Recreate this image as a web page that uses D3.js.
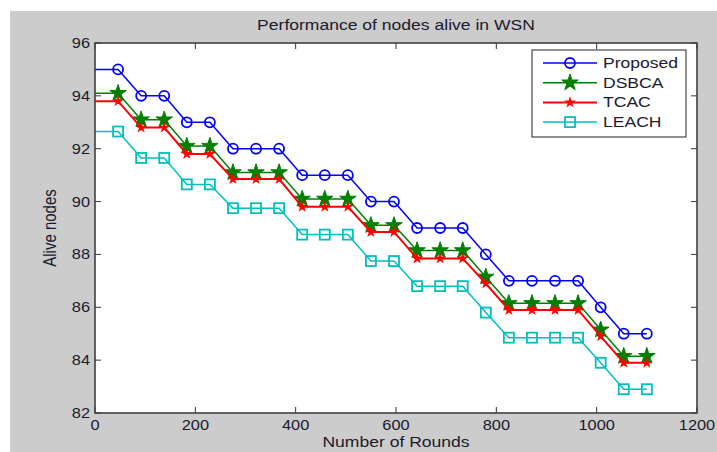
<!DOCTYPE html>
<html><head><meta charset="utf-8">
<script src="https://cdn.jsdelivr.net/npm/d3@7"></script>
<style>body{margin:0;background:#fff}svg{display:block}text{font-family:"Liberation Sans",Arial,sans-serif;fill:#1a1a2e}</style>
</head><body><svg id="c" width="717" height="452"></svg>
<script>
const rounds = [0,46,92,138,183,229,275,321,367,413,458,504,550,596,642,688,733,779,825,871,917,963,1008,1054,1100];
const proposed = [95,95,94,94,93,93,92,92,92,91,91,91,90,90,89,89,89,88,87,87,87,87,86,85,85];
const dsbca = [94.1,94.1,93.1,93.1,92.1,92.1,91.1,91.1,91.1,90.1,90.1,90.1,89.1,89.1,88.15,88.15,88.15,87.15,86.15,86.15,86.15,86.15,85.15,84.15,84.15];
const tcac = [93.8,93.8,92.8,92.8,91.8,91.8,90.85,90.85,90.85,89.8,89.8,89.8,88.85,88.85,87.85,87.85,87.85,86.9,85.9,85.9,85.9,85.9,84.9,83.9,83.9];
const leach = [92.65,92.65,91.65,91.65,90.65,90.65,89.75,89.75,89.75,88.75,88.75,88.75,87.75,87.75,86.8,86.8,86.8,85.8,84.85,84.85,84.85,84.85,83.9,82.9,82.9];
const seriesNames = ["Proposed","DSBCA","TCAC","LEACH"];
const xTicks = [0,200,400,600,800,1000,1200];
const yTicks = [82,84,86,88,90,92,94,96];

const SX = 1.17;
const svg = d3.select("#c");
function txt(g,xx,yy,s,size,anchor){
  return g.append("text").attr("transform",`translate(${xx},${yy}) scale(${SX},1)`).attr("text-anchor",anchor||"start").attr("font-size",size).text(s);
}
svg.append("rect").attr("x",10).attr("y",11).attr("width",707).attr("height",441).attr("fill","#cccccc");
const L=95,R=697,T=43,B=413;
const x = d3.scaleLinear().domain([0,1200]).range([L,R]);
const y = d3.scaleLinear().domain([82,96]).range([B,T]);
svg.append("rect").attr("x",L).attr("y",T).attr("width",R-L).attr("height",B-T).attr("fill","#fff");
svg.append("defs").append("clipPath").attr("id","clip").append("rect").attr("x",L).attr("y",T).attr("width",R-L).attr("height",B-T);

const styles = [
 {data:proposed,color:"#0000ff",w:1.5,marker:"circle"},
 {data:dsbca,color:"#008000",w:1.5,marker:"star"},
 {data:tcac,color:"#ff0000",w:2,marker:"smallstar"},
 {data:leach,color:"#00bfbf",w:1.5,marker:"square"}
];
function drawMarker(g,type,color,cx,cy){
  if(type==="circle") g.append("circle").attr("cx",cx).attr("cy",cy).attr("r",5).attr("fill","none").attr("stroke",color).attr("stroke-width",1.8);
  else if(type==="square") g.append("rect").attr("x",cx-5).attr("y",cy-5).attr("width",10).attr("height",10).attr("fill","none").attr("stroke",color).attr("stroke-width",1.8);
  else if(type==="star") g.append("path").attr("d",d3.symbol(d3.symbolStar,85)()).attr("transform",`translate(${cx},${cy})`).attr("fill",color).attr("stroke",color).attr("stroke-width",1);
  else g.append("path").attr("d",d3.symbol(d3.symbolStar,20)()).attr("transform",`translate(${cx},${cy})`).attr("fill",color).attr("stroke",color).attr("stroke-width",1.2);
}
const plot = svg.append("g").attr("clip-path","url(#clip)");
const line = d3.line().x((d,i)=>x(rounds[i])).y(d=>y(d));
styles.forEach(s=>{
  plot.append("path").datum(s.data).attr("d",line).attr("fill","none").attr("stroke",s.color).attr("stroke-width",s.w);
  s.data.forEach((v,i)=>{ if(i>0) drawMarker(plot,s.marker,s.color,x(rounds[i]),y(v)); });
});

// axes
const ax = svg.append("g");
xTicks.forEach(t=>{
  ax.append("line").attr("x1",x(t)).attr("x2",x(t)).attr("y1",B).attr("y2",B-6).attr("stroke","#333");
  ax.append("line").attr("x1",x(t)).attr("x2",x(t)).attr("y1",T).attr("y2",T+6).attr("stroke","#333");
  txt(ax,x(t),B+17,t,14,"middle");
});
yTicks.forEach(t=>{
  ax.append("line").attr("x1",L).attr("x2",L+6).attr("y1",y(t)).attr("y2",y(t)).attr("stroke","#333");
  ax.append("line").attr("x1",R).attr("x2",R-6).attr("y1",y(t)).attr("y2",y(t)).attr("stroke","#333");
  txt(ax,L-5,y(t)+5,t,14,"end");
});
svg.append("rect").attr("x",L).attr("y",T).attr("width",R-L).attr("height",B-T).attr("fill","none").attr("stroke","#404040").attr("stroke-width",1.6);

txt(svg,(L+R)/2,30,"Performance of nodes alive in WSN",15,"middle");
txt(svg,(L+R)/2,447,"Number of Rounds",15,"middle");
svg.append("text").attr("transform",`translate(56,${(T+B)/2}) rotate(-90) scale(1,${SX})`).attr("text-anchor","middle").attr("font-size",15).text("Alive nodes");

// legend
const lg = svg.append("g");
lg.append("rect").attr("x",532).attr("y",50).attr("width",154).attr("height",87).attr("fill","#fff").attr("stroke","#222").attr("stroke-width",1);
seriesNames.forEach((n,i)=>{
  const yy = 63 + i*19.7;
  const s = styles[i];
  lg.append("line").attr("x1",543).attr("x2",597).attr("y1",yy).attr("y2",yy).attr("stroke",s.color).attr("stroke-width",s.w);
  drawMarker(lg,s.marker,s.color,570,yy);
  txt(lg,603,yy+5,n,15,"start");
});
</script></body></html>
